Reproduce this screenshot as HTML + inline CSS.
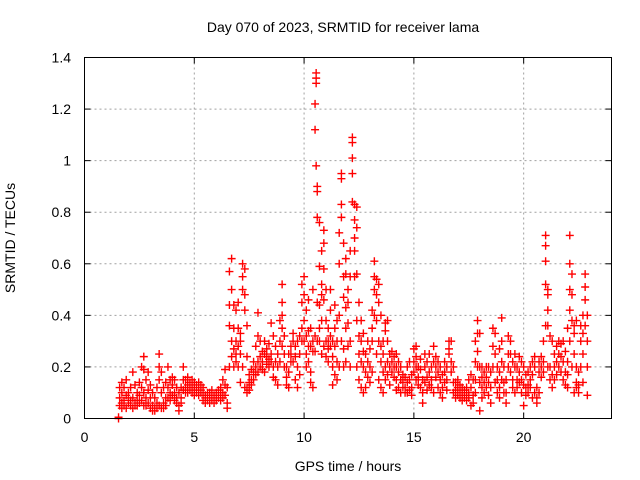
<!DOCTYPE html>
<html><head><meta charset="utf-8"><style>
body{margin:0;background:#fff}
svg{display:block;font-family:"Liberation Sans",sans-serif}
</style></head><body>
<svg id="chart" width="640" height="480" viewBox="0 0 640 480">
<rect width="640" height="480" fill="#fff"/>
<text x="343" y="32" font-size="14" text-anchor="middle">Day 070 of 2023, SRMTID for receiver lama</text>
<text x="348" y="471" font-size="14" text-anchor="middle">GPS time / hours</text>
<text transform="translate(15,238) rotate(-90)" font-size="14" text-anchor="middle">SRMTID / TECUs</text>
<g id="grid"></g><g id="ticks"></g><g id="marks"></g>
<rect x="84.5" y="57.5" width="527" height="361" fill="none" stroke="#000"/>
</svg>
<script>
const xTicks=[0,5,10,15,20];
const yTicks=[0,0.2,0.4,0.6,0.8,1,1.2,1.4];
const yTickLabels=["0","0.2","0.4","0.6","0.8","1","1.2","1.4"];
const hours=[1.55,1.6,1.7,1.8,1.9,2.0,2.1,2.2,2.3,2.4,2.5,2.6,2.7,2.8,2.9,3.0,3.1,3.2,3.3,3.4,3.5,3.6,3.7,3.8,3.9,4.0,4.1,4.2,4.3,4.4,4.5,4.6,4.7,4.8,4.9,5.0,5.1,5.2,5.3,5.4,5.5,5.6,5.7,5.8,5.9,6.0,6.1,6.2,6.3,6.4,6.5,6.6,6.7,6.8,6.9,7.0,7.1,7.2,7.3,7.4,7.5,7.6,7.7,7.8,7.9,8.0,8.1,8.2,8.3,8.4,8.5,8.6,8.7,8.8,8.9,9.0,9.1,9.2,9.3,9.4,9.5,9.6,9.7,9.8,9.9,10.0,10.1,10.2,10.3,10.4,10.5,10.55,10.6,10.7,10.8,10.9,11.0,11.1,11.2,11.3,11.4,11.5,11.6,11.7,11.8,11.9,12.0,12.1,12.2,12.3,12.4,12.5,12.6,12.7,12.8,12.9,13.0,13.1,13.2,13.3,13.4,13.5,13.6,13.7,13.8,13.9,14.0,14.1,14.2,14.3,14.4,14.5,14.6,14.7,14.8,14.9,15.0,15.1,15.2,15.3,15.4,15.5,15.6,15.7,15.8,15.9,16.0,16.1,16.2,16.3,16.4,16.5,16.6,16.7,16.8,16.9,17.0,17.1,17.2,17.3,17.4,17.5,17.6,17.7,17.8,17.9,18.0,18.1,18.2,18.3,18.4,18.5,18.6,18.7,18.8,18.9,19.0,19.1,19.2,19.3,19.4,19.5,19.6,19.7,19.8,19.9,20.0,20.1,20.2,20.3,20.4,20.5,20.6,20.7,20.8,20.9,21.0,21.1,21.2,21.3,21.4,21.5,21.6,21.7,21.8,21.9,22.0,22.1,22.2,22.3,22.4,22.5,22.6,22.7,22.8,22.9];
const tecu=[[0,0.005],[0.08,0.12,0.05],[0.1,0.14,0.06,0.04],[0.07,0.12,0.05],[0.09,0.15,0.04],[0.06,0.1,0.08],[0.05,0.12,0.07],[0.08,0.18,0.04],[0.06,0.13,0.05],[0.07,0.1,0.05],[0.09,0.14,0.06],[0.12,0.2,0.07],[0.1,0.24,0.05,0.19],[0.08,0.15,0.05],[0.11,0.18,0.06],[0.08,0.13,0.04],[0.05,0.1,0.03],[0.04,0.08,0.03],[0.06,0.12,0.04],[0.15,0.25,0.2,0.05],[0.1,0.18,0.04],[0.06,0.12,0.04],[0.08,0.14,0.05],[0.12,0.2,0.08],[0.1,0.15,0.07],[0.13,0.16,0.09],[0.1,0.15,0.07],[0.06,0.12,0.08],[0.05,0.1,0.03],[0.08,0.12,0.06],[0.15,0.2,0.11],[0.12,0.15,0.1],[0.13,0.16,0.1],[0.11,0.14,0.12],[0.12,0.15,0.1],[0.11,0.14,0.09],[0.1,0.13,0.12],[0.09,0.12,0.14],[0.1,0.13,0.11],[0.07,0.1,0.12],[0.06,0.09,0.08],[0.07,0.1,0.08],[0.06,0.09,0.1],[0.07,0.08,0.11],[0.06,0.09,0.07],[0.08,0.1,0.07],[0.09,0.11,0.08],[0.07,0.1,0.12],[0.1,0.15,0.08],[0.13,0.19,0.09],[0.06,0.12,0.04],[0.2,0.36,0.44,0.57],[0.62,0.5,0.3,0.24],[0.35,0.44,0.2,0.27],[0.3,0.42,0.25,0.22],[0.28,0.35,0.2,0.45],[0.25,0.33,0.14,0.3],[0.55,0.6,0.5,0.2],[0.42,0.48,0.58,0.12],[0.12,0.24,0.1,0.36],[0.14,0.17,0.11],[0.15,0.19,0.13],[0.18,0.22,0.15],[0.2,0.28,0.17],[0.22,0.32,0.41,0.18],[0.2,0.24,0.3],[0.22,0.26,0.19],[0.18,0.25,0.3],[0.21,0.27,0.24],[0.2,0.29,0.23],[0.25,0.37,0.22],[0.2,0.32,0.16],[0.15,0.22,0.28],[0.13,0.25,0.2],[0.3,0.38,0.22],[0.35,0.4,0.52,0.45,0.28],[0.25,0.32,0.2],[0.16,0.2,0.13],[0.18,0.25,0.12],[0.22,0.28,0.25],[0.3,0.33,0.22],[0.24,0.15,0.28],[0.12,0.2,0.3],[0.25,0.32,0.17],[0.3,0.45,0.52,0.35],[0.38,0.48,0.55,0.3],[0.2,0.42,0.32,0.25],[0.28,0.46,0.34,0.22],[0.18,0.28,0.35,0.14],[0.12,0.26,0.3,0.5],[1.12,1.22,0.32,0.26],[1.3,1.32,1.34,0.98],[0.9,0.88,0.78,0.45,0.3],[0.76,0.59,0.44,0.35,0.3],[0.65,0.52,0.38,0.25,0.48],[0.73,0.68,0.58,0.46,0.28],[0.5,0.38,0.3,0.24],[0.3,0.22,0.35,0.27],[0.28,0.32,0.42,0.5],[0.24,0.3,0.13,0.2],[0.35,0.44,0.28,0.17],[0.3,0.38,0.22,0.15],[0.72,0.6,0.4,0.2],[0.95,0.93,0.83,0.78,0.3],[0.68,0.55,0.47,0.27,0.2],[0.62,0.56,0.43,0.35,0.22],[0.5,0.45,0.37,0.28],[0.65,0.55,0.3,0.2],[1.09,1.07,1.01,0.95,0.84],[0.83,0.77,0.7,0.65,0.55],[0.82,0.74,0.56,0.38,0.2],[0.45,0.32,0.25,0.15],[0.38,0.3,0.22,0.12],[0.33,0.2,0.1,0.26],[0.25,0.18,0.12],[0.22,0.3,0.16],[0.2,0.27,0.14],[0.35,0.42,0.3,0.18],[0.61,0.55,0.5,0.4],[0.54,0.48,0.38,0.25],[0.52,0.45,0.3,0.15],[0.4,0.28,0.22,0.12],[0.25,0.18,0.3,0.1],[0.37,0.34,0.2,0.15],[0.38,0.3,0.22,0.17],[0.25,0.2,0.13],[0.22,0.18,0.26],[0.2,0.16,0.24],[0.25,0.15,0.2,0.11],[0.18,0.12,0.22],[0.15,0.1,0.2],[0.17,0.12,0.14],[0.12,0.1,0.16],[0.2,0.14,0.1],[0.15,0.11,0.22],[0.12,0.09,0.17],[0.22,0.27,0.18],[0.24,0.28,0.2,0.15],[0.2,0.16,0.13],[0.19,0.12,0.23],[0.15,0.06,0.1],[0.2,0.14,0.25],[0.16,0.11,0.22],[0.25,0.18,0.13],[0.2,0.12,0.15],[0.28,0.22,0.1],[0.2,0.16,0.24],[0.22,0.12,0.18],[0.15,0.1,0.2],[0.12,0.08,0.17],[0.22,0.18,0.14],[0.2,0.15,0.11],[0.3,0.27,0.25],[0.3,0.22,0.18],[0.2,0.14,0.1],[0.14,0.11,0.08],[0.15,0.12,0.09],[0.13,0.1,0.08],[0.12,0.09,0.07],[0.1,0.08,0.11],[0.09,0.12,0.07],[0.15,0.1,0.08],[0.17,0.12,0.05],[0.15,0.09,0.06],[0.3,0.22,0.15,0.1],[0.38,0.33,0.26,0.2],[0.33,0.2,0.14,0.03],[0.2,0.16,0.12,0.08],[0.18,0.14,0.1],[0.16,0.12,0.2],[0.14,0.09,0.2],[0.18,0.06,0.12],[0.35,0.28,0.2],[0.33,0.25,0.14],[0.2,0.15,0.1],[0.27,0.18,0.12,0.08],[0.39,0.3,0.22,0.15],[0.2,0.14,0.1],[0.15,0.1,0.06],[0.32,0.25,0.2],[0.3,0.25,0.18],[0.22,0.15,0.12],[0.25,0.2,0.1],[0.2,0.15,0.12],[0.24,0.18,0.14],[0.22,0.15,0.1],[0.2,0.13,0.05],[0.17,0.12,0.09],[0.18,0.13,0.1],[0.15,0.12,0.2],[0.22,0.17,0.08],[0.24,0.2,0.1],[0.12,0.08,0.06],[0.22,0.18,0.1],[0.24,0.2,0.16],[0.3,0.22,0.18],[0.71,0.67,0.61,0.52,0.36],[0.5,0.48,0.42,0.36,0.2],[0.32,0.2,0.15],[0.3,0.17,0.12],[0.25,0.2,0.15],[0.22,0.28,0.17],[0.3,0.25,0.2],[0.29,0.24,0.18],[0.3,0.22,0.15],[0.26,0.18,0.13],[0.35,0.22,0.17,0.12],[0.71,0.6,0.5,0.42,0.3],[0.56,0.48,0.38,0.2],[0.36,0.33,0.25,0.1],[0.38,0.2,0.14,0.12],[0.18,0.13,0.1],[0.36,0.3,0.2],[0.4,0.33,0.25,0.14],[0.56,0.51,0.46,0.36],[0.4,0.3,0.2,0.09]];

const L=84.5,R=611.5,T=57.5,B=418.5,XMAX=24,YMAX=1.4;
function xs(v){return L+(R-L)*v/XMAX;}
function ys(v){return B-(B-T)*v/YMAX;}
const NS="http://www.w3.org/2000/svg";
function mk(tag,attrs,parent){const e=document.createElementNS(NS,tag);for(const k in attrs)e.setAttribute(k,attrs[k]);parent.appendChild(e);return e;}
const grid=document.getElementById('grid'),ticks=document.getElementById('ticks'),marks=document.getElementById('marks');
xTicks.forEach(t=>{
  const x=xs(t);
  if(t>0){const g=mk('line',{x1:x,x2:x,y1:T,y2:B,stroke:'#a0a0a0','stroke-dasharray':'2,3'},grid);
  
  }
  mk('line',{x1:x,x2:x,y1:B,y2:B-6,stroke:'#000'},ticks);
  mk('line',{x1:x,x2:x,y1:T,y2:T+6,stroke:'#000'},ticks);
  const lb=mk('text',{x:x,y:442,'font-size':14,'text-anchor':'middle'},ticks);lb.textContent=t;
  
  
});
yTicks.forEach((t,i)=>{
  const y=ys(t);
  if(t>0&&t<YMAX){const g=mk('line',{x1:L,x2:R,y1:y,y2:y,stroke:'#a0a0a0','stroke-dasharray':'2,3'},grid);
  
  }
  mk('line',{x1:L,x2:L+6,y1:y,y2:y,stroke:'#000'},ticks);
  mk('line',{x1:R,x2:R-6,y1:y,y2:y,stroke:'#000'},ticks);
  const lb=mk('text',{x:71,y:y+5,'font-size':14,'text-anchor':'end'},ticks);lb.textContent=yTickLabels[i];
  
  
});
let d='';
hours.forEach((h,i)=>{tecu[i].forEach(v=>{const x=xs(h),y=ys(v);d+=`M${x-4},${y}h8M${x},${y-4}v8`;});});
const p=mk('path',{d:d,stroke:'#ff0000','stroke-width':1.4,fill:'none'},marks);


</script>
</body></html>
